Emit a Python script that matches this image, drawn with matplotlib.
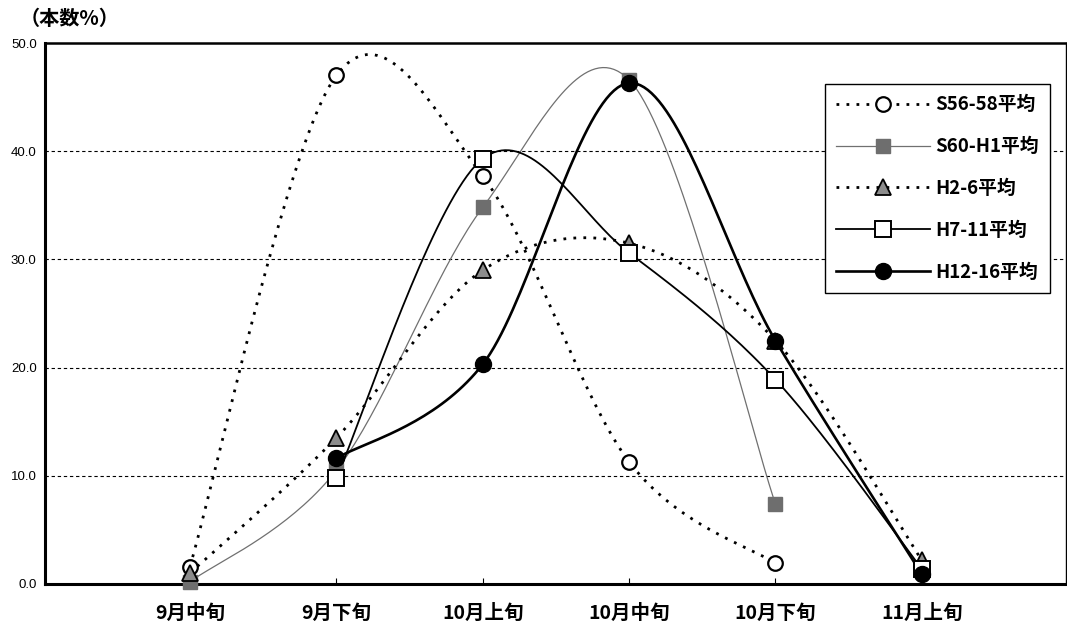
import numpy as np
import matplotlib
matplotlib.use('Agg')
import matplotlib.pyplot as plt
from matplotlib.lines import Line2D

plt.rcParams['font.family'] = ['Noto Sans CJK JP', 'DejaVu Sans']

categories = ['9月中旬', '9月下旬', '10月上旬', '10月中旬', '10月下旬', '11月上旬']
nan = np.nan
s56_58 = [1.6, 47.0, 37.7, 11.3, 1.9, nan]
s60_h1 = [0.2, 10.5, 34.8, 46.6, 7.4, nan]
h2_6 = [1.0, 13.5, 29.0, 31.5, 22.5, 2.2]
h7_11 = [nan, 9.8, 39.3, 30.6, 18.9, 1.4]
h12_16 = [nan, 11.6, 20.3, 46.3, 22.5, 0.9]
labels = ['S56-58平均', 'S60-H1平均', 'H2-6平均', 'H7-11平均', 'H12-16平均']
yticks = [0, 10, 20, 30, 40, 50]


def smooth(xs, ys, n=40):
    # bezier through each point, control points from the neighbours (1/6 rule)
    pts = np.column_stack([xs, ys])
    out = []
    for i in range(len(pts) - 1):
        p0 = pts[i - 1] if i > 0 else pts[i]
        p1 = pts[i]
        p2 = pts[i + 1]
        p3 = pts[i + 2] if i + 2 < len(pts) else pts[i + 1]
        c1 = p1 + (p2 - p0) / 6.0
        c2 = p2 - (p3 - p1) / 6.0
        t = np.linspace(0, 1, n)[:, None]
        seg = (1 - t) ** 3 * p1 + 3 * (1 - t) ** 2 * t * c1 + 3 * (1 - t) * t ** 2 * c2 + t ** 3 * p2
        out.append(seg if i == 0 else seg[1:])
    return np.vstack(out)


fig = plt.figure(figsize=(10.67, 6.31), dpi=100)
ax = fig.add_axes([45 / 1067, 47 / 631, 1021 / 1067, 541 / 631])

dot = (0, (1.0, 2.6))
styles = [
    dict(color='black', lw=2.0, ls=dot, marker='o', mfc='white', mec='black', ms=10.5, mew=1.6),
    dict(color='#707070', lw=0.9, ls='-', marker='s', mfc='#6e6e6e', mec='#6e6e6e', ms=10, mew=1.0),
    dict(color='black', lw=2.0, ls=dot, marker='^', mfc='#8c8c8c', mec='black', ms=11, mew=1.3),
    dict(color='black', lw=1.3, ls='-', marker='s', mfc='white', mec='black', ms=11.5, mew=1.4),
    dict(color='black', lw=1.9, ls='-', marker='o', mfc='black', mec='black', ms=11.5, mew=1.0),
]

x = np.arange(len(categories))
for vals, st in zip([s56_58, s60_h1, h2_6, h7_11, h12_16], styles):
    vals = np.array(vals, dtype=float)
    ok = ~np.isnan(vals)
    curve = smooth(x[ok], vals[ok])
    ax.plot(curve[:, 0], curve[:, 1], color=st['color'], lw=st['lw'], ls=st['ls'],
            dash_capstyle='butt', zorder=3)
    ax.plot(x[ok], vals[ok], ls='none', marker=st['marker'], mfc=st['mfc'], mec=st['mec'],
            ms=st['ms'], mew=st['mew'], zorder=4, clip_on=False)

ax.set_xlim(-0.99, 5.985)
ax.set_ylim(0, 50)
ax.set_xticks(x)
ax.set_xticklabels(categories, fontsize=14, fontweight='bold')
ax.set_yticks(yticks)
ax.set_yticklabels(['%.1f' % v for v in yticks], fontsize=9.5, family=['Liberation Sans', 'DejaVu Sans'])
ax.tick_params(axis='x', direction='in', length=4, width=0.8, pad=14)
ax.tick_params(axis='y', length=0, pad=6)

for v in yticks[1:-1]:
    ax.axhline(v, color='black', lw=0.8, ls=(0, (3, 2.5)), zorder=1)

ax.spines['left'].set_linewidth(2.2)
ax.spines['bottom'].set_linewidth(2.2)
ax.spines['top'].set_linewidth(1.8)
ax.spines['right'].set_linewidth(1.0)

handles = [Line2D([], [], color=st['color'], lw=st['lw'], ls=st['ls'], marker=st['marker'],
                  mfc=st['mfc'], mec=st['mec'], ms=st['ms'], mew=st['mew'])
           for st in styles]
leg = ax.legend(handles, labels, loc='upper right', bbox_to_anchor=(1050 / 1067, 1 - 84 / 631),
                bbox_transform=fig.transFigure, borderaxespad=0, fancybox=False, frameon=True,
                framealpha=1, edgecolor='black', handlelength=5.0, handletextpad=0.3,
                labelspacing=1.22, borderpad=0.6, prop={'size': 13.5, 'weight': 'bold'})
leg.get_frame().set_linewidth(1.0)

fig.text(20 / 1067, 1 - 18 / 631, '（本数%）', fontsize=14.5, fontweight='bold', va='center', ha='left')

fig.savefig('out.png', dpi=100)
